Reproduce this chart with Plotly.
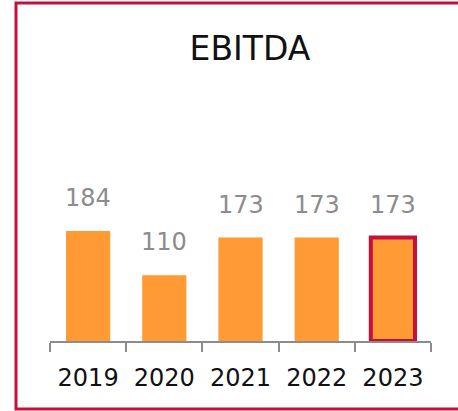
import plotly.graph_objects as go

years = ["2019", "2020", "2021", "2022", "2023"]
ebitda = [184, 110, 173, 173, 173]

BAR_COLOR = "#FF9A35"
ACCENT = "#C5103C"
GREY = "#8C8C8C"
FONT = "'DejaVu Sans', sans-serif"

line_colors = ["rgba(0,0,0,0)"] * (len(years) - 1) + [ACCENT]
line_widths = [0] * (len(years) - 1) + [4]

fig = go.Figure()
fig.add_trace(go.Bar(
    x=years,
    y=ebitda,
    width=0.58,
    marker=dict(color=BAR_COLOR, line=dict(color=line_colors, width=line_widths)),
    hoverinfo="x+y",
))

# value labels above each bar (category axis positions by index)
for i, v in enumerate(ebitda):
    fig.add_annotation(
        x=i, y=v, xref="x", yref="y", text=str(v), showarrow=False,
        yshift=33, font=dict(size=24, color=GREY, family=FONT),
    )

fig.update_layout(
    width=458, height=411,
    margin=dict(l=50, r=27, t=100, b=70),
    paper_bgcolor="white", plot_bgcolor="white",
    showlegend=False,
    title=dict(
        text="EBITDA", x=250 / 458, xref="container", xanchor="center",
        y=1 - 48 / 411, yref="container", yanchor="middle",
        font=dict(size=33, color="#111111", family=FONT),
    ),
    xaxis=dict(
        type="category", tickson="boundaries", ticks="outside", ticklen=9,
        tickwidth=2, tickcolor=GREY, showline=True, linecolor=GREY, linewidth=2,
        tickfont=dict(size=24, color="#111111", family=FONT), showgrid=False,
        ticklabelstandoff=14, range=[-0.5, 4.5],
    ),
    yaxis=dict(range=[0, 403], showticklabels=False, showline=False,
               showgrid=False, zeroline=False, ticks=""),
    shapes=[dict(
        type="rect", xref="paper", yref="paper",
        x0=(16 - 50) / 381, x1=(475 - 50) / 381,
        y0=(341 - 409) / 241, y1=(341 - 3) / 241,
        line=dict(color=ACCENT, width=3), fillcolor="rgba(0,0,0,0)", layer="below",
    )],
)

fig.write_html("out.html")
